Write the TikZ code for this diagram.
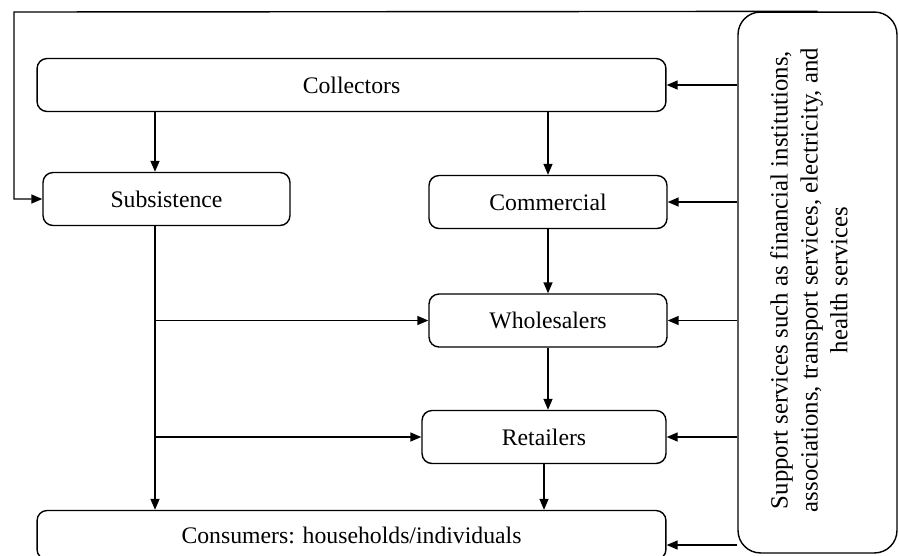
\documentclass[tikz,border=0pt]{standalone}
\usepackage{fontspec}
\setmainfont{Liberation Serif}
\usetikzlibrary{arrows.meta, positioning, calc}

\begin{document}
\begin{tikzpicture}[x=0.02cm, y=-0.02cm,
    stage/.style={rectangle, rounded corners=0.2cm, draw, line width=0.8pt,
                  minimum height=1.06cm, font=\fontsize{13.5}{16}\selectfont},
    support/.style={rectangle, rounded corners=0.45cm, draw, line width=0.8pt,
                  minimum width=3.18cm, minimum height=10.82cm},
    note/.style={rotate=90, align=center, font=\fontsize{14.1}{17}\selectfont},
    flow/.style={line width=0.8pt, -{Triangle[length=2.2mm, width=1.8mm]}}
]
\useasboundingbox (0,0) rectangle (899,555);

% Chain
\node[stage, minimum width=12.58cm] (collectors) at (351.5,85) {Collectors};
\node[stage, minimum width=4.94cm] (subsistence) at (166.5,199) {Subsistence};
\node[stage, minimum width=4.76cm] (commercial) at (548,202) {Commercial};
\node[stage, minimum width=4.76cm] (wholesalers) at (548,320.5) {Wholesalers};
\node[stage, minimum width=4.88cm] (retailers) at (544,437) {Retailers};
\node[stage, minimum width=12.58cm, minimum height=0.98cm] (consumers) at (351.5,535) {Consumers: households/individuals};

% Support services
\node[support] (support) at (817.5,282.5) {};
\node[note] (supporttext) at (809,280) {Support services such as financial institutions,\\associations, transport services, electricity, and\\health services};

% Flows
\coordinate (sub) at (155,0);
\coordinate (loop) at (14,12);
\draw[flow] (collectors.south -| sub) -- (subsistence.north -| sub);
\draw[flow] (collectors.south -| commercial) -- (commercial.north);
\draw[flow] (commercial.south) -- (wholesalers.north);
\draw[flow] (wholesalers.south) -- (wholesalers.south |- retailers.north);
\draw[flow] (retailers.south) -- (retailers.south |- consumers.north);
\draw[flow] (subsistence.south -| sub) -- (consumers.north -| sub);
\foreach \n in {wholesalers,retailers}
    \draw[flow] (sub |- \n) -- (\n.west);

% Support links
\foreach \n in {collectors,commercial,wholesalers,retailers}
    \draw[flow] (support.west |- \n.east) -- (\n.east);
\draw[flow] ($(support.west |- consumers.east)+(0,10)$) -- ($(consumers.east)+(0,10)$);
\draw[flow] (support.north) -- (loop) |- (subsistence.west);

\end{tikzpicture}
\end{document}
